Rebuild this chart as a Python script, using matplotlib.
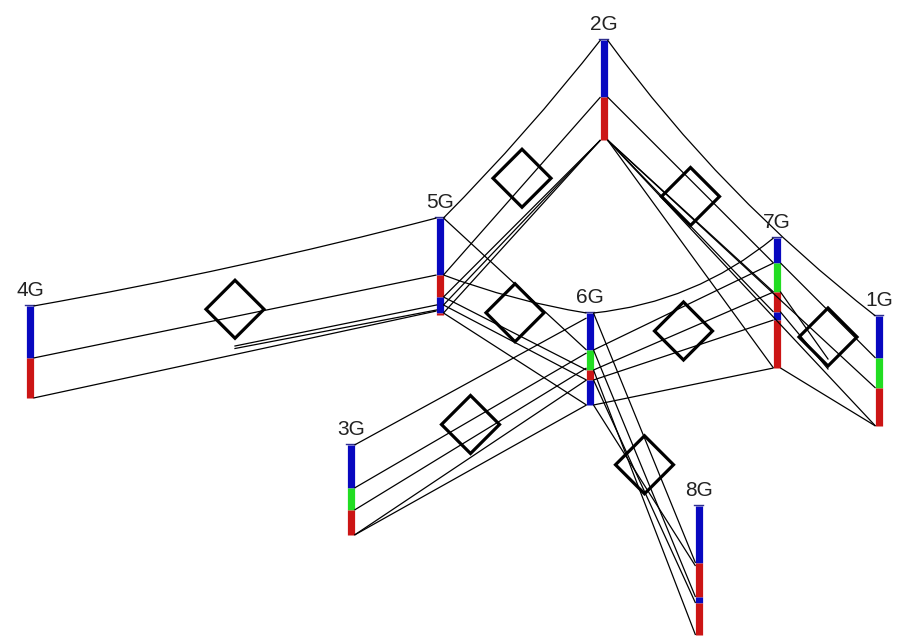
"""Linkage group comparison diagram (8 groups, markers linked between neighbours)."""
import matplotlib
matplotlib.use("Agg")
import matplotlib.pyplot as plt
from matplotlib.path import Path
from matplotlib.patches import PathPatch, Polygon

# --- data -------------------------------------------------------------
groups = ["1G", "2G", "3G", "4G", "5G", "6G", "7G", "8G"]

# coloured segments of each group: (colour key, length in cM from the top)
segments = {
    "1G": [("b", 42), ("g", 30), ("r", 38)],
    "2G": [("b", 57), ("r", 43)],
    "3G": [("b", 43), ("g", 22), ("r", 25)],
    "4G": [("b", 52), ("r", 40)],
    "5G": [("b", 57), ("r", 22), ("b", 16), ("r", 2)],
    "6G": [("b", 37), ("g", 20), ("r", 10), ("b", 25)],
    "7G": [("b", 25), ("g", 29), ("r", 20), ("b", 8), ("r", 48)],
    "8G": [("b", 57), ("r", 34), ("b", 6), ("r", 32)],
}

# marker links: (group A, position A, group B, position B)
links = [
    ("4G", 0, "5G", 0), ("4G", 52, "5G", 57), ("4G", 92, "5G", 93),
    ("5G", 0, "2G", 0), ("5G", 57, "2G", 57), ("5G", 79, "2G", 100),
    ("5G", 87, "2G", 100), ("5G", 95, "2G", 100),
    ("5G", 0, "6G", 37), ("5G", 57, "6G", 0), ("5G", 79, "6G", 57),
    ("5G", 87, "6G", 67), ("5G", 95, "6G", 92),
    ("2G", 0, "1G", 0), ("2G", 57, "7G", 25), ("2G", 100, "7G", 54),
    ("2G", 100, "7G", 74), ("2G", 100, "7G", 130), ("2G", 100, "1G", 72),
    ("2G", 100, "1G", 110),
    ("6G", 0, "7G", 0), ("6G", 37, "7G", 25), ("6G", 57, "7G", 54),
    ("6G", 67, "7G", 82), ("6G", 92, "7G", 130),
    ("7G", 25, "1G", 42), ("7G", 130, "1G", 110),
    ("3G", 0, "6G", 5), ("3G", 43, "6G", 40), ("3G", 65, "6G", 55),
    ("3G", 90, "6G", 67), ("3G", 90, "6G", 92),
    ("6G", 0, "8G", 57), ("6G", 37, "8G", 91), ("6G", 57, "8G", 129),
    ("6G", 67, "8G", 97), ("6G", 92, "8G", 60),
]
# links drawn only from the middle of the gap to the second group
half_links = [
    ("4G", 81, "5G", 87), ("4G", 81, "5G", 92),
    ("1G", 110, "7G", 54), ("1G", 110, "7G", 74),
]
# neighbouring pairs that get a diamond
pairs = [("4G", "5G"), ("5G", "2G"), ("2G", "7G"), ("5G", "6G"),
         ("6G", "7G"), ("7G", "1G"), ("3G", "6G"), ("6G", "8G")]

# --- layout / style ---------------------------------------------------
gx = {"1G": 879, "2G": 604, "3G": 351, "4G": 30,
      "5G": 440, "6G": 590, "7G": 777, "8G": 699}
gtop = {"1G": 316, "2G": 40, "3G": 445, "4G": 306,
        "5G": 218, "6G": 313, "7G": 238, "8G": 506}
bend = {("4G", 0, "5G", 0): 0.02, ("5G", 0, "2G", 0): 0.03,
        ("6G", 0, "7G", 0): 0.15, ("2G", 0, "1G", 0): 0.07,
        ("5G", 57, "6G", 0): 0.05}
COL = {"b": "#0808c0", "r": "#cc1515", "g": "#22dd22"}
BAR_HALF = 3.5


def pt(g, pos, toward):
    x = gx[g] + (BAR_HALF if gx[toward] > gx[g] else -BAR_HALF)
    return x, gtop[g] + pos


def length(g):
    return sum(l for _, l in segments[g])


fig = plt.figure(figsize=(9.04, 6.42), dpi=100)
ax = fig.add_axes([0, 0, 1, 1])
ax.set_xlim(0, 904)
ax.set_ylim(642, 0)
ax.axis("off")

# bars
for g in groups:
    y = gtop[g]
    for c, l in segments[g]:
        ax.plot([gx[g], gx[g]], [y, y + l], color=COL[c], lw=5.2,
                solid_capstyle="butt", zorder=1)
        y += l
    ax.plot([gx[g] - 4.5, gx[g] + 4.5], [gtop[g] - 1, gtop[g] - 1],
            color="#303090", lw=1.0, zorder=1)
    ax.text(gx[g], gtop[g] - 6, g, ha="center", va="bottom", fontsize=15,
            family="Liberation Sans", color="#222222")

# links
for a, pa, b, pb in links:
    x0, y0 = pt(a, pa, b)
    x1, y1 = pt(b, pb, a)
    k = bend.get((a, pa, b, pb), 0.0)
    dx, dy = x1 - x0, y1 - y0
    cx = (x0 + x1) / 2 - dy * k
    cy = (y0 + y1) / 2 + dx * k
    path = Path([(x0, y0), (cx, cy), (x1, y1)],
                [Path.MOVETO, Path.CURVE3, Path.CURVE3])
    ax.add_patch(PathPatch(path, fc="none", ec="black", lw=0.9, zorder=2))

for a, pa, b, pb in half_links:
    x0, y0 = pt(a, pa, b)
    x1, y1 = pt(b, pb, a)
    ax.plot([(x0 + x1) / 2, x1], [(y0 + y1) / 2, y1], color="black",
            lw=0.9, zorder=2)

# diamonds
R = 29
for a, b in pairs:
    cx = (gx[a] + gx[b]) / 2
    cy = (gtop[a] + length(a) / 2 + gtop[b] + length(b) / 2) / 2
    ax.add_patch(Polygon([(cx, cy - R), (cx + R, cy), (cx, cy + R), (cx - R, cy)],
                         closed=True, fc="none", ec="black", lw=2.3, zorder=3))

fig.savefig("out.png", dpi=100)
